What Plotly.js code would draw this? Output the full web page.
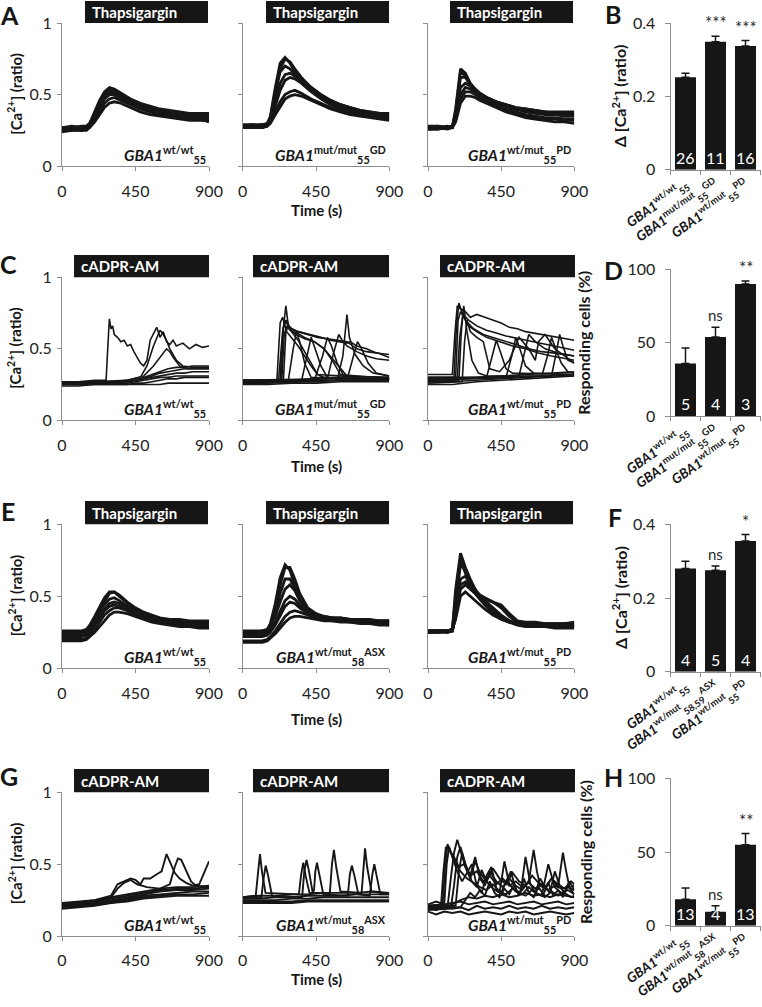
<!DOCTYPE html>
<html><head><meta charset="utf-8">
<script src="https://cdn.plot.ly/plotly-3.0.1.min.js"></script>
<style>html,body{margin:0;padding:0;background:#fff}#chart{width:762px;height:1007px}</style>
</head><body><div id="chart"></div>
<script>
// ---------------- DATA ----------------
const TIME_TICKS = [0, 450, 900];
const CA_TICKS = [0, 0.5, 1];

// Row A: Thapsigargin (GBA1 wt/wt55, mut/mut55 GD, wt/mut55 PD)
const tA = [0,60,120,150,170,200,230,260,290,320,360,420,480,540,600,660,720,780,840,900];
const A_wt = [
 [0.27,0.28,0.27,0.28,0.30,0.38,0.46,0.52,0.55,0.54,0.51,0.47,0.44,0.42,0.40,0.39,0.38,0.37,0.37,0.37],
 [0.26,0.26,0.27,0.27,0.29,0.36,0.44,0.50,0.53,0.52,0.50,0.46,0.43,0.41,0.39,0.38,0.37,0.36,0.36,0.36],
 [0.25,0.25,0.26,0.26,0.28,0.34,0.41,0.47,0.50,0.50,0.48,0.44,0.41,0.39,0.37,0.36,0.35,0.34,0.34,0.34],
 [0.26,0.27,0.26,0.27,0.28,0.33,0.39,0.44,0.47,0.48,0.46,0.43,0.40,0.38,0.36,0.35,0.34,0.34,0.33,0.33],
 [0.24,0.25,0.25,0.25,0.27,0.31,0.36,0.41,0.44,0.45,0.44,0.41,0.38,0.36,0.35,0.34,0.33,0.32,0.32,0.32],
 [0.27,0.27,0.28,0.28,0.30,0.37,0.45,0.51,0.54,0.53,0.50,0.45,0.42,0.40,0.38,0.37,0.36,0.35,0.35,0.35],
 [0.25,0.26,0.25,0.26,0.28,0.35,0.42,0.48,0.51,0.51,0.49,0.45,0.42,0.39,0.37,0.35,0.34,0.33,0.33,0.31]
];
const A_GD = [
 [0.28,0.28,0.28,0.29,0.35,0.55,0.72,0.76,0.72,0.66,0.60,0.54,0.49,0.45,0.42,0.40,0.38,0.37,0.36,0.36],
 [0.27,0.28,0.27,0.28,0.33,0.50,0.68,0.75,0.73,0.68,0.62,0.55,0.50,0.46,0.43,0.41,0.39,0.38,0.37,0.37],
 [0.28,0.28,0.29,0.29,0.32,0.45,0.58,0.64,0.65,0.63,0.59,0.53,0.48,0.44,0.41,0.39,0.37,0.36,0.35,0.35],
 [0.27,0.27,0.28,0.28,0.31,0.42,0.53,0.60,0.62,0.61,0.58,0.52,0.47,0.43,0.40,0.38,0.36,0.35,0.34,0.34],
 [0.28,0.29,0.28,0.29,0.31,0.38,0.45,0.50,0.52,0.53,0.51,0.47,0.44,0.41,0.39,0.37,0.36,0.35,0.34,0.33],
 [0.27,0.27,0.27,0.28,0.30,0.36,0.42,0.47,0.49,0.50,0.49,0.46,0.43,0.40,0.38,0.36,0.35,0.34,0.33,0.32],
 [0.29,0.29,0.29,0.30,0.34,0.52,0.66,0.70,0.68,0.64,0.60,0.55,0.50,0.46,0.43,0.41,0.39,0.38,0.37,0.37]
];
const A_PD = [
 [0.27,0.27,0.27,0.28,0.40,0.68,0.65,0.58,0.54,0.51,0.48,0.45,0.43,0.41,0.40,0.39,0.38,0.37,0.37,0.37],
 [0.26,0.26,0.27,0.27,0.37,0.62,0.62,0.57,0.53,0.50,0.47,0.44,0.42,0.40,0.38,0.37,0.36,0.36,0.35,0.35],
 [0.27,0.28,0.27,0.28,0.35,0.55,0.58,0.56,0.53,0.51,0.48,0.45,0.42,0.40,0.39,0.38,0.37,0.36,0.36,0.36],
 [0.26,0.27,0.26,0.27,0.33,0.50,0.55,0.54,0.52,0.50,0.48,0.45,0.43,0.41,0.40,0.39,0.38,0.38,0.38,0.38],
 [0.27,0.27,0.28,0.27,0.31,0.44,0.49,0.49,0.48,0.46,0.44,0.41,0.38,0.36,0.34,0.33,0.32,0.31,0.31,0.30],
 [0.28,0.28,0.27,0.28,0.32,0.47,0.52,0.52,0.50,0.48,0.45,0.42,0.39,0.37,0.35,0.34,0.33,0.33,0.32,0.32],
 [0.26,0.26,0.27,0.27,0.38,0.66,0.63,0.57,0.53,0.50,0.47,0.43,0.40,0.38,0.36,0.35,0.34,0.34,0.33,0.33]
];

// Row C: cADPR-AM
const tBaseC = [0,100,200,300,400,450,500,550,600,650,700,750,800,900];
const C_wt_base = [
 [0.25,0.25,0.26,0.26,0.27,0.28,0.30,0.32,0.34,0.36,0.37,0.37,0.38,0.38],
 [0.26,0.26,0.26,0.27,0.27,0.28,0.29,0.31,0.33,0.34,0.35,0.36,0.36,0.36],
 [0.27,0.27,0.27,0.27,0.28,0.28,0.29,0.30,0.31,0.32,0.33,0.33,0.34,0.34],
 [0.25,0.25,0.26,0.26,0.26,0.27,0.28,0.29,0.30,0.30,0.31,0.31,0.31,0.31],
 [0.24,0.24,0.25,0.25,0.25,0.26,0.26,0.27,0.28,0.29,0.29,0.30,0.30,0.30],
 [0.26,0.25,0.25,0.25,0.25,0.25,0.25,0.25,0.25,0.26,0.26,0.26,0.26,0.26]
];
const C_wt_t = [
 [0,100,200,270,280,290,300,310,320,340,360,380,400,420,440,460,480,500,520,540,560,580,600,620,640,660,680,700,740,780,820,860,900],
 [0,200,400,480,520,560,600,620,640,660,700,740,800,900],
 [0,200,400,500,560,600,640,660,680,720,760,900]
];
const C_wt_v = [
 [0.27,0.27,0.28,0.28,0.50,0.71,0.64,0.66,0.60,0.58,0.55,0.56,0.52,0.53,0.48,0.44,0.40,0.38,0.42,0.56,0.60,0.65,0.58,0.62,0.55,0.53,0.56,0.52,0.54,0.50,0.53,0.51,0.52],
 [0.26,0.27,0.28,0.30,0.38,0.52,0.63,0.60,0.56,0.50,0.42,0.38,0.37,0.37],
 [0.26,0.26,0.28,0.31,0.38,0.44,0.50,0.48,0.44,0.38,0.36,0.36]
];
const tBase7 = [0,150,300,450,600,750,900];
const C_GD_base = [
 [0.26,0.26,0.27,0.27,0.28,0.28,0.28],
 [0.27,0.27,0.28,0.29,0.29,0.29,0.29],
 [0.25,0.25,0.26,0.26,0.27,0.27,0.27],
 [0.28,0.28,0.28,0.29,0.30,0.30,0.30]
];
const C_GD_t = [
 [0,220,240,255,265,280,300,340,380,420,480,540,600,640,660,700,760,820,900],
 [0,230,245,260,280,300,340,400,460,520,580,640,700,760,830,900],
 [0,210,230,245,270,300,340,380,420,460,500,600,900],
 [0,240,255,270,290,330,380,440,500,560,600,640,680,900],
 [0,280,310,330,350,380,420,900],
 [0,360,395,420,445,480,520,900],
 [0,440,490,520,545,580,620,900],
 [0,520,560,590,610,640,700,760,820,900],
 [0,580,615,630,640,655,690,740,800,900],
 [0,640,680,705,730,770,820,900],
 [0,235,250,270,300,340,380,420,460,900],
 [0,250,265,280,320,380,440,500,560,600,900]
];
const C_GD_v = [
 [0.27,0.28,0.55,0.72,0.80,0.66,0.64,0.62,0.61,0.60,0.58,0.56,0.55,0.54,0.55,0.52,0.50,0.47,0.46],
 [0.26,0.27,0.62,0.70,0.66,0.64,0.62,0.60,0.58,0.57,0.56,0.55,0.50,0.48,0.47,0.44],
 [0.28,0.28,0.68,0.72,0.62,0.58,0.52,0.45,0.38,0.32,0.30,0.29,0.29],
 [0.27,0.28,0.60,0.66,0.63,0.60,0.57,0.55,0.50,0.42,0.36,0.31,0.29,0.29],
 [0.27,0.28,0.50,0.62,0.55,0.40,0.30,0.29],
 [0.26,0.27,0.45,0.58,0.50,0.38,0.30,0.29],
 [0.27,0.28,0.45,0.58,0.52,0.40,0.31,0.30],
 [0.28,0.29,0.48,0.60,0.56,0.52,0.48,0.45,0.43,0.42],
 [0.27,0.28,0.45,0.62,0.74,0.58,0.46,0.38,0.33,0.31],
 [0.27,0.28,0.45,0.55,0.50,0.40,0.33,0.31],
 [0.28,0.28,0.65,0.70,0.62,0.56,0.48,0.40,0.32,0.29],
 [0.27,0.28,0.62,0.66,0.62,0.58,0.55,0.50,0.40,0.32,0.29]
];
const C_PD_base = [
 [0.27,0.27,0.28,0.29,0.30,0.31,0.32],
 [0.25,0.25,0.27,0.28,0.29,0.30,0.31],
 [0.30,0.30,0.30,0.31,0.32,0.33,0.34]
];
const C_PD_t = [
 [0,150,165,180,200,230,260,300,350,400,450,500,550,600,650,700,750,800,850,900],
 [0,160,175,190,210,250,300,360,420,480,560,640,720,800,900],
 [0,170,185,200,230,280,340,400,460,540,620,700,780,860,900],
 [0,180,195,215,250,300,360,440,520,600,680,760,840,900],
 [0,190,205,220,240,270,310,360,900],
 [0,210,225,240,260,300,340,380,440,500,560,620,660,680,720,780,840,900],
 [0,360,395,420,445,480,520,900],
 [0,480,515,540,565,600,650,900],
 [0,560,595,620,660,720,800,900],
 [0,700,735,760,785,820,860,900],
 [0,760,790,810,830,860,900]
];
const C_PD_v = [
 [0.32,0.32,0.60,0.80,0.78,0.76,0.72,0.74,0.72,0.70,0.68,0.65,0.64,0.62,0.61,0.60,0.59,0.58,0.57,0.56],
 [0.30,0.30,0.65,0.82,0.75,0.70,0.66,0.63,0.61,0.59,0.57,0.55,0.53,0.51,0.49],
 [0.29,0.30,0.70,0.76,0.70,0.64,0.60,0.58,0.56,0.53,0.50,0.48,0.47,0.46,0.45],
 [0.28,0.29,0.58,0.74,0.66,0.62,0.58,0.55,0.52,0.50,0.47,0.45,0.43,0.42],
 [0.27,0.28,0.62,0.80,0.62,0.42,0.33,0.31,0.31],
 [0.26,0.27,0.55,0.70,0.62,0.58,0.55,0.36,0.34,0.42,0.58,0.50,0.42,0.55,0.60,0.50,0.45,0.40],
 [0.28,0.30,0.45,0.56,0.48,0.36,0.33,0.32],
 [0.28,0.30,0.45,0.58,0.50,0.38,0.33,0.32],
 [0.29,0.31,0.48,0.60,0.55,0.50,0.47,0.45],
 [0.28,0.31,0.45,0.58,0.50,0.40,0.34,0.33],
 [0.29,0.31,0.48,0.60,0.52,0.42,0.40]
];

// Row E: Thapsigargin (wt/wt55, wt/mut58 ASX, wt/mut55 PD)
const tE = [0,60,120,150,170,200,230,260,290,320,350,400,450,500,550,600,660,720,780,840,900];
const E_wt = [
 [0.25,0.25,0.25,0.26,0.29,0.35,0.41,0.47,0.52,0.53,0.50,0.45,0.41,0.38,0.36,0.34,0.33,0.33,0.32,0.32,0.32],
 [0.24,0.24,0.25,0.25,0.28,0.33,0.39,0.44,0.48,0.49,0.47,0.43,0.40,0.37,0.35,0.34,0.33,0.32,0.32,0.31,0.31],
 [0.23,0.23,0.23,0.24,0.26,0.31,0.36,0.41,0.45,0.46,0.45,0.42,0.39,0.36,0.35,0.33,0.32,0.31,0.31,0.30,0.30],
 [0.20,0.20,0.20,0.21,0.23,0.27,0.32,0.37,0.40,0.42,0.42,0.40,0.37,0.35,0.33,0.32,0.31,0.30,0.30,0.29,0.29],
 [0.19,0.19,0.19,0.20,0.22,0.25,0.29,0.33,0.37,0.39,0.39,0.38,0.36,0.34,0.32,0.31,0.30,0.29,0.29,0.28,0.28],
 [0.26,0.26,0.26,0.27,0.30,0.36,0.43,0.49,0.53,0.53,0.51,0.46,0.42,0.39,0.37,0.35,0.34,0.34,0.33,0.33,0.33],
 [0.22,0.22,0.22,0.23,0.25,0.30,0.35,0.40,0.43,0.44,0.43,0.41,0.38,0.36,0.34,0.33,0.32,0.31,0.31,0.30,0.30]
];
const E_ASX = [
 [0.25,0.25,0.25,0.26,0.30,0.42,0.58,0.70,0.70,0.62,0.52,0.42,0.38,0.36,0.35,0.35,0.34,0.34,0.33,0.33,0.33],
 [0.24,0.24,0.24,0.25,0.28,0.38,0.52,0.62,0.62,0.56,0.48,0.40,0.37,0.35,0.34,0.34,0.33,0.33,0.33,0.32,0.32],
 [0.25,0.25,0.26,0.26,0.29,0.36,0.46,0.55,0.58,0.54,0.47,0.40,0.37,0.35,0.35,0.34,0.34,0.33,0.33,0.33,0.33],
 [0.23,0.23,0.23,0.24,0.26,0.32,0.40,0.47,0.50,0.48,0.44,0.39,0.36,0.35,0.34,0.34,0.33,0.33,0.32,0.32,0.32],
 [0.22,0.22,0.22,0.23,0.25,0.30,0.37,0.43,0.46,0.45,0.42,0.38,0.36,0.34,0.34,0.33,0.33,0.32,0.32,0.31,0.31],
 [0.19,0.19,0.19,0.20,0.22,0.26,0.31,0.36,0.39,0.40,0.39,0.37,0.35,0.34,0.33,0.33,0.32,0.32,0.31,0.31,0.30],
 [0.18,0.18,0.18,0.19,0.21,0.24,0.28,0.32,0.35,0.36,0.36,0.35,0.34,0.33,0.33,0.32,0.32,0.31,0.31,0.30,0.30],
 [0.26,0.26,0.26,0.27,0.31,0.45,0.63,0.72,0.68,0.58,0.48,0.40,0.37,0.36,0.35,0.35,0.34,0.34,0.34,0.33,0.33]
];
const E_PD = [
 [0.26,0.26,0.26,0.27,0.55,0.80,0.70,0.62,0.55,0.50,0.46,0.40,0.36,0.33,0.31,0.31,0.31,0.30,0.30,0.31,0.30],
 [0.25,0.25,0.26,0.26,0.45,0.72,0.68,0.60,0.54,0.50,0.47,0.42,0.37,0.33,0.31,0.30,0.30,0.30,0.29,0.30,0.29],
 [0.26,0.26,0.26,0.26,0.40,0.62,0.64,0.58,0.54,0.51,0.49,0.46,0.42,0.36,0.32,0.31,0.31,0.31,0.31,0.31,0.31],
 [0.25,0.25,0.25,0.26,0.36,0.55,0.58,0.55,0.52,0.50,0.48,0.46,0.44,0.38,0.33,0.32,0.32,0.31,0.31,0.31,0.32],
 [0.26,0.26,0.26,0.27,0.34,0.50,0.53,0.50,0.47,0.44,0.41,0.37,0.34,0.32,0.30,0.29,0.29,0.29,0.28,0.28,0.28],
 [0.25,0.26,0.25,0.26,0.38,0.58,0.60,0.56,0.52,0.48,0.44,0.39,0.35,0.32,0.31,0.30,0.30,0.30,0.30,0.29,0.29],
 [0.26,0.26,0.26,0.27,0.50,0.76,0.66,0.58,0.52,0.48,0.44,0.38,0.34,0.32,0.31,0.31,0.30,0.30,0.30,0.30,0.30]
];

// Row G: cADPR-AM (wt/wt55, wt/mut58 ASX, wt/mut55 PD)
const tG = [0,100,200,300,400,500,600,700,800,900];
const G_wt_base = [
 [0.23,0.24,0.25,0.27,0.29,0.31,0.33,0.34,0.34,0.35],
 [0.22,0.23,0.24,0.26,0.28,0.30,0.32,0.33,0.33,0.34],
 [0.21,0.22,0.23,0.25,0.27,0.29,0.31,0.32,0.32,0.33],
 [0.20,0.21,0.22,0.24,0.26,0.28,0.29,0.30,0.31,0.31],
 [0.19,0.20,0.21,0.23,0.25,0.27,0.28,0.29,0.29,0.30],
 [0.21,0.21,0.22,0.23,0.24,0.26,0.27,0.28,0.28,0.28]
];
const G_wt_t = [
 [0,200,300,340,380,420,450,480,500,540,580,610,640,660,690,720,760,800,840,870,900],
 [0,200,300,340,380,420,460,520,600,660,690,710,730,760,790,820,900]
];
const G_wt_v = [
 [0.22,0.25,0.28,0.36,0.38,0.40,0.39,0.36,0.40,0.40,0.43,0.45,0.57,0.52,0.44,0.40,0.37,0.35,0.36,0.44,0.52],
 [0.21,0.24,0.27,0.33,0.37,0.39,0.36,0.34,0.33,0.36,0.48,0.54,0.53,0.45,0.38,0.35,0.34]
];
const G_ASX_base = [
 [0.27,0.28,0.28,0.29,0.29,0.30,0.30,0.30,0.31,0.30],
 [0.26,0.26,0.27,0.27,0.28,0.28,0.28,0.29,0.29,0.29],
 [0.25,0.25,0.25,0.26,0.26,0.27,0.27,0.27,0.27,0.27],
 [0.24,0.24,0.24,0.24,0.25,0.25,0.25,0.25,0.25,0.25],
 [0.23,0.23,0.23,0.23,0.24,0.24,0.24,0.24,0.24,0.24]
];
const G_ASX_t = [
 [0,80,95,106,118,140,345,358,372,386,410,535,548,560,574,600,730,742,751,764,790,900],
 [0,115,128,141,156,180,365,378,392,407,430,438,446,456,472,495,645,658,670,686,710,780,795,808,822,845,900]
];
const G_ASX_v = [
 [0.27,0.28,0.45,0.57,0.45,0.30,0.29,0.42,0.51,0.42,0.30,0.30,0.50,0.60,0.48,0.31,0.30,0.50,0.61,0.48,0.31,0.29],
 [0.26,0.27,0.40,0.49,0.42,0.28,0.27,0.45,0.53,0.45,0.30,0.32,0.45,0.51,0.42,0.29,0.28,0.43,0.49,0.42,0.29,0.28,0.42,0.50,0.42,0.29,0.29]
];
const tG50 = [0,50,100,150,200,250,300,350,400,450,500,550,600,650,700,750,800,850,900];
const G_PD_base = [
 [0.20,0.18,0.21,0.19,0.20,0.18,0.21,0.19,0.20,0.19,0.21,0.19,0.20,0.19,0.21,0.19,0.20,0.19,0.20],
 [0.17,0.15,0.17,0.16,0.17,0.15,0.16,0.17,0.16,0.15,0.17,0.16,0.17,0.15,0.16,0.17,0.16,0.15,0.16],
 [0.22,0.24,0.22,0.23,0.24,0.22,0.23,0.24,0.22,0.23,0.24,0.22,0.23,0.24,0.22,0.23,0.24,0.22,0.23],
 [0.19,0.21,0.20,0.22,0.25,0.27,0.26,0.28,0.27,0.29,0.27,0.28,0.30,0.28,0.29,0.27,0.29,0.28,0.27]
];
const G_PD_t = [
 [0,80,95,110,130,160,190,220,260,300,340,380,420,460,500,540,580,620,660,700,740,780,820,860,900],
 [0,120,140,160,180,200,230,260,290,320,360,400,440,480,520,560,600,640,680,720,760,800,840,880,900],
 [0,100,115,130,150,180,210,240,270,300,330,360,390,420,450,480,510,540,570,600,630,660,690,720,750,780,810,840,870,900],
 [0,140,160,180,200,230,260,290,320,350,380,420,460,500,540,580,620,650,670,690,720,760,800,830,850,870,900],
 [0,170,190,210,240,270,300,330,360,400,440,470,500,540,580,620,660,700,740,780,820,860,900],
 [0,90,105,120,140,170,200,240,280,320,360,400,440,480,520,560,600,640,680,720,760,800,840,880,900],
 [0,200,230,260,290,320,350,380,410,440,470,500,530,560,590,620,650,680,710,740,770,800,830,860,900]
];
const G_PD_v = [
 [0.20,0.21,0.45,0.62,0.60,0.55,0.48,0.50,0.42,0.45,0.38,0.42,0.36,0.40,0.35,0.38,0.34,0.37,0.33,0.36,0.32,0.35,0.33,0.34,0.32],
 [0.19,0.20,0.40,0.58,0.67,0.60,0.48,0.40,0.52,0.44,0.38,0.47,0.40,0.36,0.44,0.38,0.35,0.42,0.37,0.34,0.40,0.36,0.33,0.38,0.36],
 [0.21,0.22,0.50,0.62,0.55,0.45,0.38,0.44,0.50,0.35,0.30,0.42,0.48,0.33,0.30,0.38,0.45,0.32,0.30,0.55,0.36,0.30,0.40,0.34,0.30,0.45,0.35,0.30,0.38,0.32],
 [0.18,0.19,0.35,0.55,0.62,0.50,0.42,0.55,0.40,0.35,0.45,0.38,0.34,0.40,0.35,0.32,0.38,0.60,0.45,0.35,0.33,0.40,0.34,0.58,0.45,0.34,0.35],
 [0.20,0.21,0.45,0.58,0.46,0.38,0.34,0.46,0.38,0.33,0.30,0.52,0.36,0.31,0.29,0.34,0.30,0.28,0.50,0.34,0.30,0.32,0.29],
 [0.21,0.22,0.48,0.64,0.58,0.50,0.45,0.40,0.37,0.34,0.32,0.36,0.31,0.29,0.33,0.30,0.28,0.32,0.29,0.27,0.31,0.28,0.30,0.27,0.28],
 [0.19,0.20,0.25,0.30,0.27,0.32,0.28,0.38,0.30,0.27,0.33,0.29,0.36,0.28,0.40,0.30,0.27,0.34,0.29,0.37,0.28,0.32,0.27,0.35,0.29]
];

// Bar panels
const B_vals = [0.252, 0.349, 0.337];
const B_errs = [0.011, 0.015, 0.015];
const B_n = ['26', '11', '16'];
const B_sig = ['', '***', '***'];
const D_vals = [36, 54, 90];
const D_errs = [10.5, 6.5, 2];
const D_n = ['5', '4', '3'];
const D_sig = ['', 'ns', '**'];
const F_vals = [0.28, 0.275, 0.355];
const F_errs = [0.02, 0.012, 0.017];
const F_n = ['4', '5', '4'];
const F_sig = ['', 'ns', '*'];
const H_vals = [18, 9.5, 55];
const H_errs = [7.5, 4, 7.5];
const H_n = ['13', '4', '13'];
const H_sig = ['', 'ns', '**'];

// genotype labels: [superscript, subscript, trailing superscript]
const GENO_GD = [['wt/wt','55',''], ['mut/mut','55','GD'], ['wt/mut','55','PD']];
const GENO_ASX = [['wt/wt','55',''], ['wt/mut','58','ASX'], ['wt/mut','55','PD']];
const GENO_ASX_BAR_F = [['wt/wt','55',''], ['wt/mut','58,59','ASX'], ['wt/mut','55','PD']];
const TREAT = ['Thapsigargin', 'cADPR-AM', 'Thapsigargin', 'cADPR-AM'];
const LETTERS = ['A','B','C','D','E','F','G','H'];

// ---------------- LAYOUT / DRAWING ----------------
const W = 762, H = 1007;
const fx = v => v / W, fy = v => 1 - v / H;
const FONT = 'Lato, "Open Sans", sans-serif';
const INK = '#161616';
const AX = '#8c8c8c';

const traceCols = [[62,209],[242.7,389.3],[428,574.3]];
const barCol = [670.5,760.5];
const rowTrace = [[23,166.3],[277.3,420.3],[524.3,668.3],[792.3,936]];
const rowBar = [[23,169.7],[269.3,416.3],[524.3,671.7],[778.3,925.7]];
const boxY = [[1,23],[255,277.3],[501,524.3],[769,792.3]];
const boxXThaps = [[85,208],[266,389],[450,573]];
const boxXcADPR = [[74,209],[253,389],[440,575]];
const timeTitleY = [210, 466, 719, 979];
const letterPos = [[9,15],[613,14],[8,264],[613,270],[8,511],[615,517],[9,776],[613,777]];
const barTitleX = [619, 584, 619, 585];
const rowLine = [2.8, 1.6, 2.8, 1.9];

const data = [];
const layout = {
  width: W, height: H, margin: {l:0, r:0, t:0, b:0},
  paper_bgcolor: '#ffffff', plot_bgcolor: 'rgba(0,0,0,0)',
  showlegend: false, bargap: 0.3,
  font: {family: FONT, color: INK},
  annotations: [], shapes: []
};
let nAx = 0;
function newAxes() {
  nAx++;
  const s = nAx === 1 ? '' : String(nAx);
  return {xa: 'x' + s, ya: 'y' + s, xk: 'xaxis' + s, yk: 'yaxis' + s};
}
function genoText(g) {
  return '<b><i>GBA1</i><sup>' + g[0] + '</sup><sub>' + g[1] + '</sub>' + (g[2] ? '<sup>' + g[2] + '</sup>' : '') + '</b>';
}

function tracePanel(row, col, groups, geno) {
  const a = newAxes();
  const lw = rowLine[row];
  layout[a.xk] = {
    domain: [fx(traceCols[col][0]), fx(traceCols[col][1])], anchor: a.ya,
    range: [0, 900], tickmode: 'array', tickvals: TIME_TICKS,
    ticks: 'outside', ticklen: 4, tickcolor: AX, showline: true, linecolor: AX, linewidth: 1,
    showgrid: false, zeroline: false, ticklabelstandoff: 6,
    tickfont: {family: FONT, size: 16, color: '#222'}
  };
  layout[a.yk] = {
    domain: [fy(rowTrace[row][1]), fy(rowTrace[row][0])], anchor: a.xa,
    range: [0, 1], tickmode: 'array', tickvals: CA_TICKS, showticklabels: col === 0,
    ticks: 'outside', ticklen: 4, tickcolor: AX, showline: true, linecolor: AX, linewidth: 1,
    showgrid: false, zeroline: false, ticklabelstandoff: 2,
    tickfont: {family: FONT, size: 16, color: '#222'}
  };
  groups.forEach(([tList, vList]) => {
    vList.forEach((v, i) => {
      const t = Array.isArray(tList[0]) ? tList[i] : tList;
      data.push({type: 'scatter', mode: 'lines', x: t, y: v, xaxis: a.xa, yaxis: a.ya,
        line: {color: INK, width: lw}, hoverinfo: 'skip'});
    });
  });
  // treatment box
  const bx = (row % 2 === 0 ? boxXThaps : boxXcADPR)[col];
  layout.shapes.push({type: 'rect', xref: 'paper', yref: 'paper',
    x0: fx(bx[0]), x1: fx(bx[1]), y0: fy(boxY[row][1]), y1: fy(boxY[row][0]),
    fillcolor: INK, line: {width: 0}});
  layout.annotations.push({xref: 'paper', yref: 'paper', x: fx(bx[0] + 5), y: fy((boxY[row][0] + boxY[row][1]) / 2),
    xanchor: 'left', yanchor: 'middle', showarrow: false,
    text: '<b>' + TREAT[row] + '</b>', font: {family: FONT, size: 15, color: '#ffffff'}});
  // genotype label
  layout.annotations.push({xref: 'paper', yref: 'paper', x: fx(traceCols[col][1] - 1), y: fy(rowTrace[row][1] - 12),
    xanchor: 'right', yanchor: 'middle', showarrow: false,
    text: genoText(geno), font: {family: FONT, size: 15.5, color: INK}});
}

function barPanel(row, genos, vals, errs, ns, sig, yr, yticks, title) {
  const a = newAxes();
  layout[a.xk] = {
    domain: [fx(barCol[0]), fx(barCol[1])], anchor: a.ya,
    range: [-0.5, 2.5], tickmode: 'array', tickvals: [0, 1, 2], ticktext: genos.map(genoText),
    ticks: '', tickangle: -35, showline: true, linecolor: AX, linewidth: 1,
    showgrid: false, zeroline: false, ticklabelstandoff: 1,
    minor: {tickmode: 'array', tickvals: [-0.5, 0.5, 1.5, 2.5], ticks: 'outside', ticklen: 4, tickcolor: AX, showgrid: false},
    tickfont: {family: FONT, size: 13.5, color: INK}
  };
  layout[a.yk] = {
    domain: [fy(rowBar[row][1]), fy(rowBar[row][0])], anchor: a.xa,
    range: yr, tickmode: 'array', tickvals: yticks,
    ticks: 'outside', ticklen: 5, tickcolor: AX, showline: true, linecolor: AX, linewidth: 1,
    showgrid: false, zeroline: false, ticklabelstandoff: 6,
    tickfont: {family: FONT, size: 16, color: '#222'}
  };
  data.push({type: 'bar', x: [0, 1, 2], y: vals, xaxis: a.xa, yaxis: a.ya,
    marker: {color: INK, line: {width: 0}}, hoverinfo: 'skip',
    error_y: {type: 'data', symmetric: false, array: errs, arrayminus: [0, 0, 0],
      color: INK, thickness: 1.5, width: 4}});
  vals.forEach((v, i) => {
    layout.annotations.push({xref: a.xa, yref: a.ya, x: i, y: yr[0], yanchor: 'bottom', yshift: 1,
      showarrow: false, text: ns[i], font: {family: FONT, size: 16, color: '#ffffff'}});
    if (sig[i]) layout.annotations.push({xref: a.xa, yref: a.ya, x: i, y: v + errs[i], yanchor: 'bottom', yshift: 1,
      showarrow: false, text: sig[i], font: {family: FONT, size: sig[i] === 'ns' ? 15 : 17, color: '#2a2a2a'}});
  });
  layout.annotations.push({xref: 'paper', yref: 'paper', x: fx(barTitleX[row]),
    y: fy((rowBar[row][0] + rowBar[row][1]) / 2), textangle: -90, showarrow: false,
    xanchor: 'center', yanchor: 'middle', text: '<b>' + title + '</b>', font: {family: FONT, size: 16, color: INK}});
}

// Row A
tracePanel(0, 0, [[tA, A_wt]], GENO_GD[0]);
tracePanel(0, 1, [[tA, A_GD]], GENO_GD[1]);
tracePanel(0, 2, [[tA, A_PD]], GENO_GD[2]);
barPanel(0, GENO_GD, B_vals, B_errs, B_n, B_sig, [0, 0.4], [0, 0.2, 0.4], 'Δ [Ca<sup>2+</sup>] (ratio)');
// Row C
tracePanel(1, 0, [[tBaseC, C_wt_base], [C_wt_t, C_wt_v]], GENO_GD[0]);
tracePanel(1, 1, [[tBase7, C_GD_base], [C_GD_t, C_GD_v]], GENO_GD[1]);
tracePanel(1, 2, [[tBase7, C_PD_base], [C_PD_t, C_PD_v]], GENO_GD[2]);
barPanel(1, GENO_GD, D_vals, D_errs, D_n, D_sig, [0, 100], [0, 50, 100], 'Responding cells (%)');
// Row E
tracePanel(2, 0, [[tE, E_wt]], GENO_ASX[0]);
tracePanel(2, 1, [[tE, E_ASX]], GENO_ASX[1]);
tracePanel(2, 2, [[tE, E_PD]], GENO_ASX[2]);
barPanel(2, GENO_ASX_BAR_F, F_vals, F_errs, F_n, F_sig, [0, 0.4], [0, 0.2, 0.4], 'Δ [Ca<sup>2+</sup>] (ratio)');
// Row G
tracePanel(3, 0, [[tG, G_wt_base], [G_wt_t, G_wt_v]], GENO_ASX[0]);
tracePanel(3, 1, [[tG, G_ASX_base], [G_ASX_t, G_ASX_v]], GENO_ASX[1]);
tracePanel(3, 2, [[tG50, G_PD_base], [G_PD_t, G_PD_v]], GENO_ASX[2]);
barPanel(3, GENO_ASX, H_vals, H_errs, H_n, H_sig, [0, 100], [0, 50, 100], 'Responding cells (%)');

// shared titles & letters
for (let r = 0; r < 4; r++) {
  layout.annotations.push({xref: 'paper', yref: 'paper', x: fx(316), y: fy(timeTitleY[r]),
    xanchor: 'center', yanchor: 'middle', showarrow: false,
    text: '<b>Time (s)</b>', font: {family: FONT, size: 15, color: INK}});
  layout.annotations.push({xref: 'paper', yref: 'paper', x: fx(15), y: fy((rowTrace[r][0] + rowTrace[r][1]) / 2),
    xanchor: 'center', yanchor: 'middle', showarrow: false, textangle: -90,
    text: '<b>[Ca<sup>2+</sup>] (ratio)</b>', font: {family: FONT, size: 15, color: INK}});
}
LETTERS.forEach((L, i) => {
  layout.annotations.push({xref: 'paper', yref: 'paper', x: fx(letterPos[i][0]), y: fy(letterPos[i][1]),
    xanchor: 'center', yanchor: 'middle', showarrow: false,
    text: '<b>' + L + '</b>', font: {family: FONT, size: 25, color: INK}});
});

Plotly.newPlot('chart', data, layout, {staticPlot: true, displayModeBar: false});
</script></body></html>
